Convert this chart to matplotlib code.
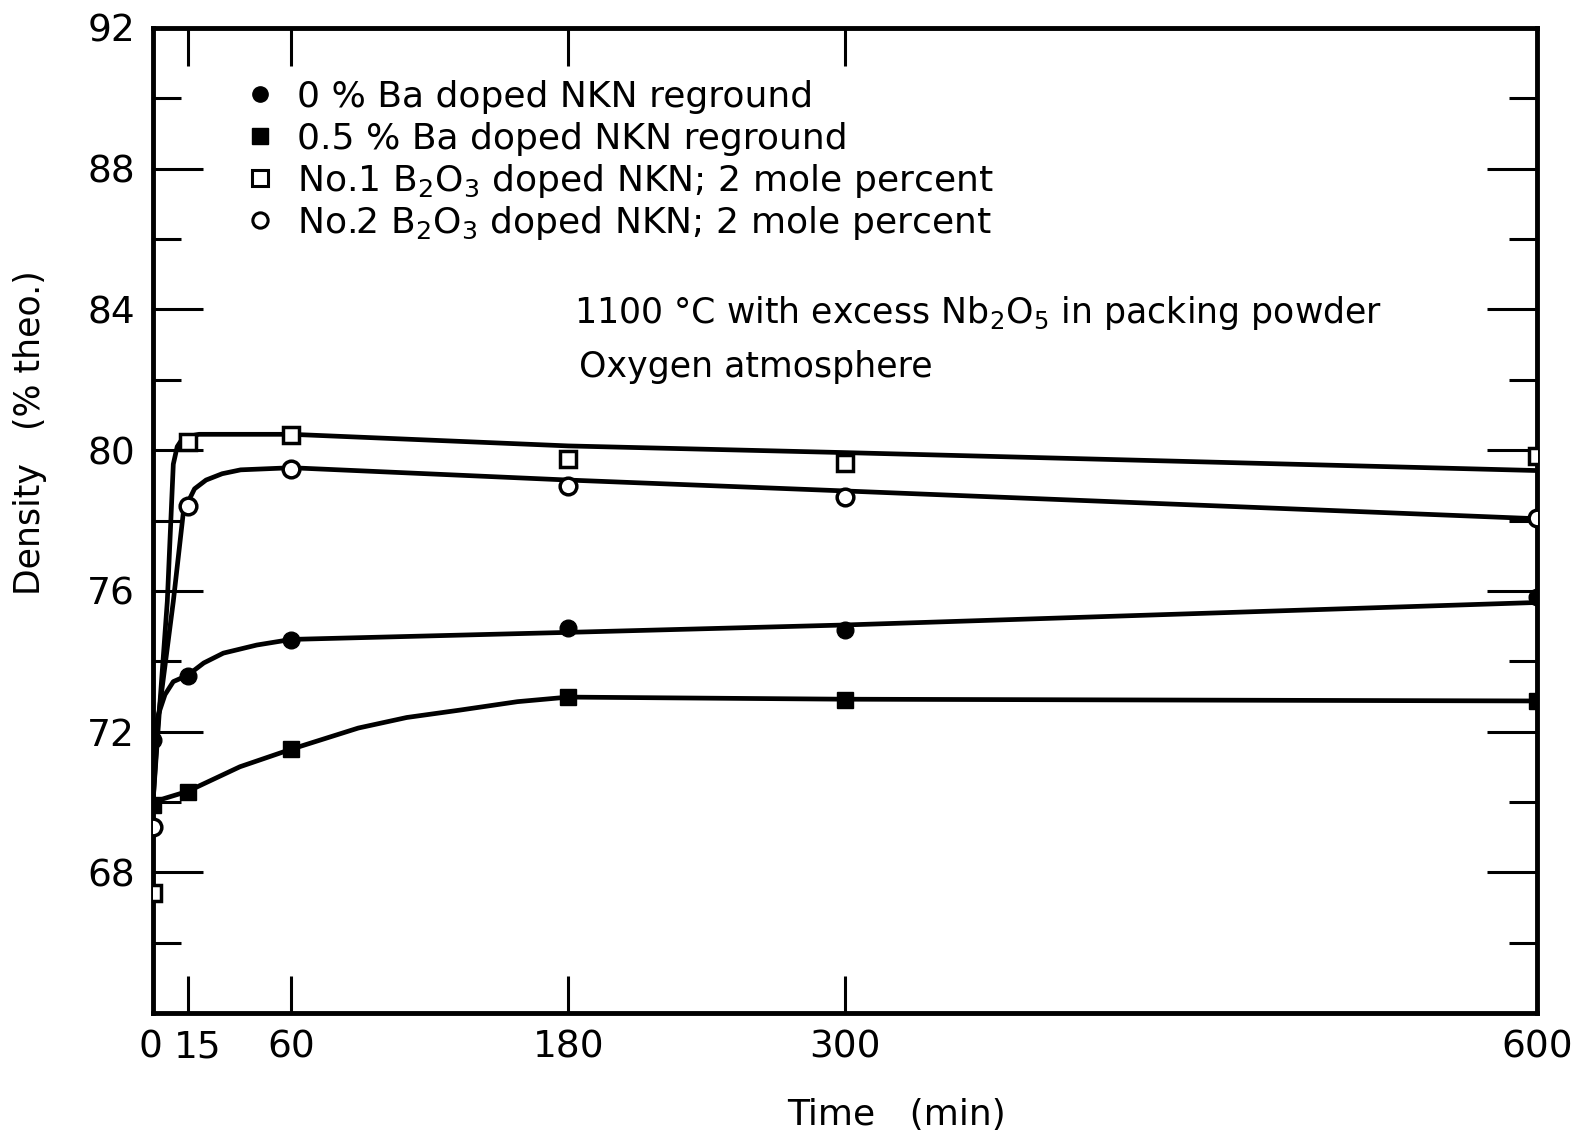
import matplotlib
matplotlib.use("Agg")
import matplotlib.pyplot as plt
import matplotlib.transforms as mtransforms
from matplotlib.lines import Line2D
from matplotlib.ticker import FixedLocator, NullFormatter

# ---------------------------------------------------------------------------
# Data
# ---------------------------------------------------------------------------

time_pts = [0, 15, 60, 180, 300, 600]

# measured densities (% theo.)
ba0_pts = [71.76, 73.58, 74.60, 74.94, 74.89, 75.83]
ba05_pts = [69.91, 70.29, 71.50, 72.98, 72.90, 72.87]
no1_pts = [67.41, 80.24, 80.43, 79.74, 79.63, 79.83]
no2_pts = [69.29, 78.41, 79.47, 78.98, 78.68, 78.08]

# hand-drawn fitted curves
ba0_curve_t = [0, 2.3, 5.2, 8.8, 15, 22, 30.5, 45, 60, 180, 300, 600]
ba0_curve_v = [71.8, 72.48, 73.05, 73.42, 73.6, 73.95, 74.23, 74.46, 74.62, 74.82, 75.03, 75.67]

ba05_curve_t = [0, 15, 37.7, 60, 89, 110, 133, 158, 180, 300, 600]
ba05_curve_v = [70.0, 70.3, 71.0, 71.5, 72.1, 72.4, 72.61, 72.85, 72.98, 72.92, 72.87]

no1_curve_t = [0, 3, 6.2, 8.8, 10.5, 12.5, 16, 20, 60, 180, 300, 600]
no1_curve_v = [70.0, 72.8, 75.7, 79.6, 80.1, 80.3, 80.4, 80.45, 80.45, 80.12, 79.93, 79.42]

no2_curve_t = [0, 2.3, 8.8, 13.1, 15, 18, 23, 30, 38, 60, 180, 300, 600]
no2_curve_v = [70.0, 72.4, 75.7, 78.2, 78.5, 78.9, 79.15, 79.33, 79.44, 79.5, 79.15, 78.84, 78.05]

labels = [
    "0 % Ba doped NKN reground",
    "0.5 % Ba doped NKN reground",
    "No.1 B$_2$O$_3$ doped NKN; 2 mole percent",
    "No.2 B$_2$O$_3$ doped NKN; 2 mole percent",
]

x_ticks = [0, 15, 60, 180, 300, 600]
y_major = [68, 72, 76, 80, 84, 88, 92]
y_minor = [66, 70, 74, 78, 82, 86, 90]

# ---------------------------------------------------------------------------
# Plot
# ---------------------------------------------------------------------------

plt.rcParams["font.family"] = ["DejaVu Sans"]
plt.rcParams["mathtext.default"] = "regular"

W, H = 1579, 1134
fig = plt.figure(figsize=(W / 100, H / 100), dpi=100)
ax = fig.add_axes([153 / W, 1 - 1013 / H, (1537 - 153) / W, (1013 - 28) / H])

lw = 3.4
for t, v in [(ba0_curve_t, ba0_curve_v), (ba05_curve_t, ba05_curve_v),
             (no1_curve_t, no1_curve_v), (no2_curve_t, no2_curve_v)]:
    ax.plot(t, v, color="black", lw=lw, solid_joinstyle="round", solid_capstyle="round")

ms = 12
styles = [
    dict(marker="o", mfc="black", mec="black", mew=1.0),
    dict(marker="s", mfc="black", mec="black", mew=1.0),
    dict(marker="s", mfc="white", mec="black", mew=2.5),
    dict(marker="o", mfc="white", mec="black", mew=2.5),
]
for pts, st in zip([ba0_pts, ba05_pts, no1_pts, no2_pts], styles):
    ax.plot(time_pts, pts, ls="none", ms=ms, zorder=5, **st)

ax.set_xlim(0, 600)
ax.set_ylim(64, 92)

ax.xaxis.set_major_locator(FixedLocator(x_ticks))
ax.set_xticklabels([str(t) for t in x_ticks])
ax.yaxis.set_major_locator(FixedLocator(y_major))
ax.yaxis.set_minor_locator(FixedLocator(y_minor))
ax.yaxis.set_minor_formatter(NullFormatter())

for s in ax.spines.values():
    s.set_linewidth(3.5)

ax.tick_params(axis="both", which="both", direction="in", top=True, right=True,
               width=2.2, labelsize=27, colors="black")
ax.tick_params(axis="y", which="major", length=36, pad=13)
ax.tick_params(axis="y", which="minor", length=20)
ax.tick_params(axis="x", which="major", length=27, pad=12)

# nudge the crowded "0" / "15" labels apart as in the original
xlabs = ax.get_xticklabels()
xlabs[0].set_transform(xlabs[0].get_transform()
                       + mtransforms.ScaledTranslation(-3 / 100, 0, fig.dpi_scale_trans))
xlabs[1].set_transform(xlabs[1].get_transform()
                       + mtransforms.ScaledTranslation(10 / 100, 0, fig.dpi_scale_trans))

fig.text(30 / W, 1 - 433 / H, "Density   (% theo.)", rotation=90,
         ha="center", va="center", fontsize=25)
fig.text(896 / W, 1 - 1115 / H, "Time   (min)", ha="center", va="center", fontsize=26)

fig.text(574 / W, 1 - 323 / H, "1100 °C with excess Nb$_2$O$_5$ in packing powder",
         ha="left", va="baseline", fontsize=25)
fig.text(579 / W, 1 - 377 / H, "Oxygen atmosphere", ha="left", va="baseline", fontsize=25)

# key, drawn as in the original: marker + text, evenly spaced rows
row0, row_gap = 94, 42
for i, (lab, st) in enumerate(zip(labels, styles)):
    yc = row0 + i * row_gap
    key_st = dict(st)
    key_st["mew"] = min(st["mew"], 2.2)
    fig.add_artist(Line2D([260 / W], [1 - yc / H], transform=fig.transFigure,
                          ls="none", ms=11, **key_st))
    fig.text(297 / W, 1 - (yc + 13) / H, lab, ha="left", va="baseline", fontsize=26)

fig.savefig("out.png", dpi=100)
